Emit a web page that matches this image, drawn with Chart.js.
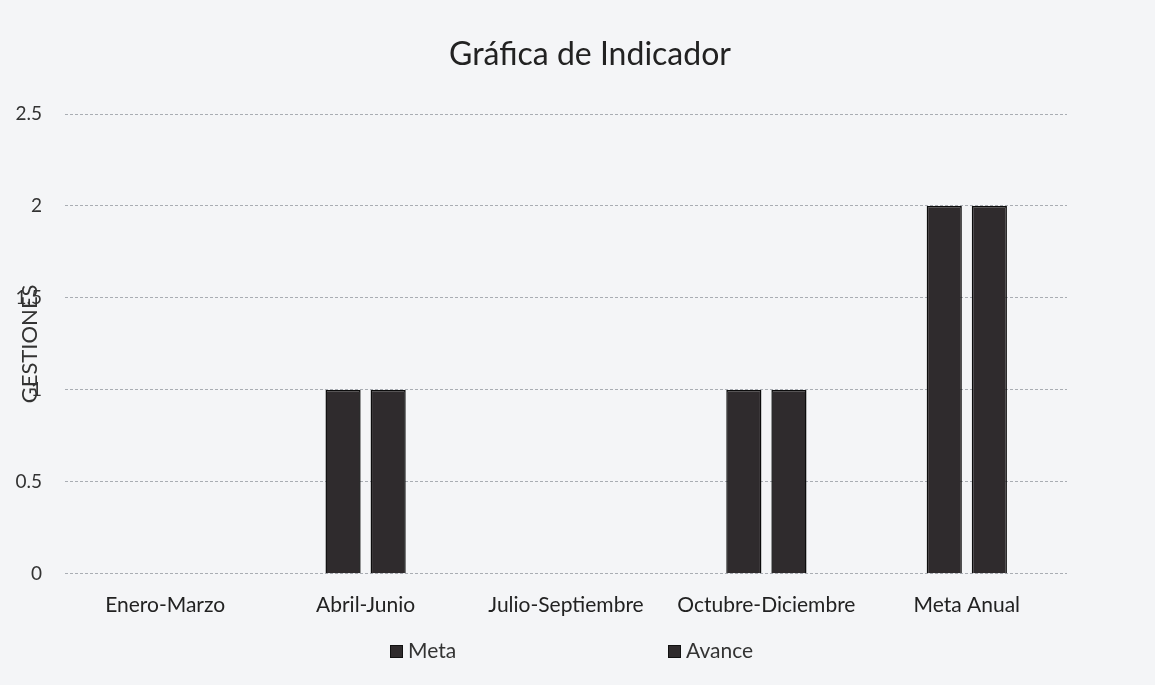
<!DOCTYPE html>
<html>
<head>
<meta charset="utf-8">
<script src="https://cdn.jsdelivr.net/npm/chart.js@4.4.0/dist/chart.umd.min.js"></script>
<style>
body{margin:0;background:#f4f5f7;font-family:Lato,'Open Sans',sans-serif;}
#wrap{width:1155px;height:685px;position:relative;}
#titulo{position:absolute;left:0;width:1180px;top:33px;text-align:center;font-size:32px;color:#222;}
#legenda{position:absolute;top:637px;left:0;width:1155px;height:26px;}
.item{position:absolute;font-size:21px;color:#333;line-height:26px;}
.item span{display:inline-block;width:11px;height:11px;margin-right:5px;border:1px solid #111;vertical-align:0px;}
</style>
</head>
<body>
<div id="wrap">
<canvas id="myChart" width="1155" height="685"></canvas>
<div id="titulo">Gráfica de Indicador</div>
<div id="legenda"></div>
</div>
<script>
let categorias = ["Enero-Marzo", "Abril-Junio", "Julio-Septiembre", "Octubre-Diciembre", "Meta Anual"]
let meta = [0, 1, 0, 1, 2]
let avance = [0, 1, 0, 1, 2]
let ticksY = [0, 0.5, 1, 1.5, 2, 2.5]

let ctx = document.getElementById("myChart")
let fuente = "Lato, 'Open Sans', sans-serif"
let corBarra = "#2f2b2d"

let dados = {
    labels: categorias,
    datasets: [{
        label: "Meta",
        data: meta,
        backgroundColor: corBarra,
        borderColor: "#0c0c0c",
        borderWidth: 1.5,
        categoryPercentage: 0.45,
        barPercentage: 0.78,
    }, {
        label: "Avance",
        data: avance,
        backgroundColor: corBarra,
        borderColor: "#0c0c0c",
        borderWidth: 1.5,
        categoryPercentage: 0.45,
        barPercentage: 0.78,
    }],
}

let opcoes = {
    responsive: false,
    animation: false,
    layout: {padding: {left: 0, right: 88, top: 114, bottom: 56}},
    plugins: {
        legend: {display: false},
        tooltip: {enabled: false},
    },
    scales: {
        x: {
            grid: {display: false},
            border: {display: false},
            ticks: {color: "#222", font: {family: fuente, size: 21}, padding: 11, maxRotation: 0},
        },
        y: {
            min: 0,
            max: 2.5,
            afterBuildTicks: (eixo) => { eixo.ticks = ticksY.map(v => ({value: v})) },
            afterFit: (eixo) => { eixo.width = 65 },
            grid: {color: "#a9adb3", lineWidth: 1, drawTicks: false},
            border: {display: false, dash: [3, 2]},
            ticks: {color: "#333", font: {family: fuente, size: 19}, padding: 23, callback: (v) => String(v)},
            title: {display: true, text: "GESTIONES", color: "#333", font: {family: fuente, size: 22}, padding: {top: 17, bottom: 0}},
        },
    },
}

let meuGrafico = new Chart(ctx, {
    type: "bar",
    data: dados,
    options: opcoes,
})

// legenda em html, com os itens bem separados como no original
let posLegenda = [390, 668]
let legenda = document.getElementById("legenda")
dados.datasets.forEach((ds, i) => {
    let d = document.createElement("div")
    d.className = "item"
    d.style.left = posLegenda[i] + "px"
    d.innerHTML = '<span style="background:' + ds.backgroundColor + '"></span>' + ds.label
    legenda.appendChild(d)
})
</script>
</body>
</html>
